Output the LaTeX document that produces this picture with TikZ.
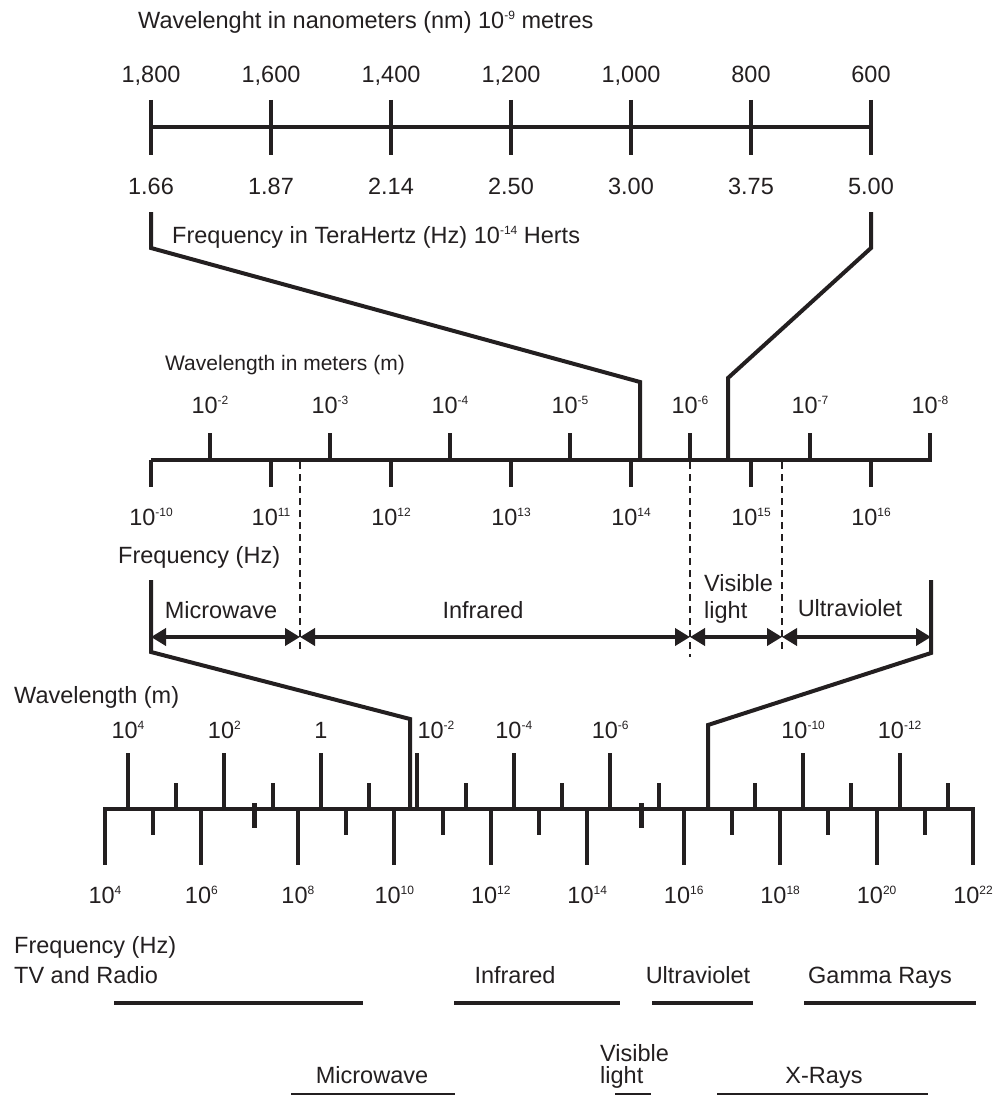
\documentclass[tikz,border=0pt]{standalone}
\usepackage{fontspec}
\setmainfont{Liberation Sans}
\usetikzlibrary{arrows.meta}
\definecolor{ink}{RGB}{35,31,32}
\newcommand{\sx}[1]{\raisebox{9pt}{\fontsize{12}{12}\selectfont #1}}
\begin{document}
\begin{tikzpicture}[x=1pt,y=-1pt,line cap=butt]
\tikzset{
 lbl/.style={font=\fontsize{23.5}{27}\selectfont, text=ink, inner sep=0pt, anchor=base},
 lblw/.style={lbl, anchor=base west},
 axis/.style={draw=ink, line width=4pt},
 tick/.style={draw=ink, line width=4pt},
 conn/.style={draw=ink, line width=4pt, line join=miter},
 dashline/.style={draw=ink, line width=2pt, dash pattern=on 7pt off 5pt},
 band/.style={draw=ink, line width=4.5pt},
 thinband/.style={draw=ink, line width=1.5pt},
 dbl/.style={draw=ink, line width=4pt, {Triangle[length=15pt,width=17pt]}-{Triangle[length=15pt,width=17pt]}},
}
\useasboundingbox (0,0) rectangle (997,1097);
% ---------- top scale ----------
\node[lblw] (ttl1) at (138,29) {Wavelenght in nanometers (nm) 10\sx{-9} metres};
\foreach \x/\t [count=\i] in {151/{1,800},271/{1,600},391/{1,400},511/{1,200},631/{1,000},751/800,871/600}{
  \node[lbl] (nm\i) at (\x,83) {\t};
  \draw[tick] (\x,100) -- (\x,155);
}
\draw[axis] (151,127) -- (871,127);
\foreach \x/\t [count=\i] in {151/1.66,271/1.87,391/2.14,511/2.50,631/3.00,751/3.75,871/5.00}{
  \node[lbl] (th\i) at (\x,194) {\t};
}
\node[lblw] (ttl2) at (172,243) {Frequency in TeraHertz (Hz) 10\sx{-14} Herts};
% connectors top -> middle
\coordinate (la1) at (151,212); \coordinate (la2) at (151,248);
\coordinate (la3) at (640,382); \coordinate (la4) at (640,460);
\draw[conn] (la1) -- (la2) -- (la3) -- (la4);
\coordinate (ra1) at (871,212); \coordinate (ra2) at (871,248);
\coordinate (ra3) at (728,378); \coordinate (ra4) at (728,460);
\draw[conn] (ra1) -- (ra2) -- (ra3) -- (ra4);
% ---------- middle scale ----------
\node[lblw, font=\fontsize{21}{25}\selectfont] (ttl3) at (165,370) {Wavelength in meters (m)};
\foreach \x/\t [count=\i] in {210/{10\sx{-2}},330/{10\sx{-3}},450/{10\sx{-4}},570/{10\sx{-5}},690/{10\sx{-6}},810/{10\sx{-7}},930/{10\sx{-8}}}{
  \node[lbl] (mw\i) at (\x,413) {\t};
  \draw[tick] (\x,433) -- (\x,460);
}
\foreach \x/\t [count=\i] in {151/{10\sx{-10}},271/{10\sx{11}},391/{10\sx{12}},511/{10\sx{13}},631/{10\sx{14}},751/{10\sx{15}},871/{10\sx{16}}}{
  \node[lbl] (mf\i) at (\x,525) {\t};
  \draw[tick] (\x,460) -- (\x,487);
}
\draw[axis] (151,460) -- (932,460);
\node[lblw] (ttl4) at (118,563) {Frequency (Hz)};
\coordinate (d1a) at (300,462); \coordinate (d1b) at (300,652);
\coordinate (d2a) at (690,462); \coordinate (d2b) at (690,657);
\coordinate (d3a) at (782,462); \coordinate (d3b) at (782,652);
\draw[dashline] (d1a) -- (d1b);
\draw[dashline] (d2a) -- (d2b);
\draw[dashline] (d3a) -- (d3b);
\coordinate (b1) at (151,637); \coordinate (b2) at (300,637);
\coordinate (b3) at (690,637); \coordinate (b4) at (782,637); \coordinate (b5) at (931,637);
\draw[dbl] (b1) -- (b2);
\draw[dbl] (b2) -- (b3);
\draw[dbl] (b3) -- (b4);
\draw[dbl] (b4) -- (b5);
\node[lbl] (mMicro) at (221,618) {Microwave};
\node[lbl] (mInfra) at (483,618) {Infrared};
\node[lblw] (mVis) at (704,591) {Visible};
\node[lblw] (mLight) at (704,618) {light};
\node[lbl] (mUV) at (850,616) {Ultraviolet};
% connectors middle -> bottom
\coordinate (lb1) at (151,580); \coordinate (lb2) at (151,652);
\coordinate (lb3) at (410,719); \coordinate (lb4) at (410,809);
\draw[conn] (lb1) -- (lb2) -- (lb3) -- (lb4);
\coordinate (rb1) at (931,580); \coordinate (rb2) at (931,653);
\coordinate (rb3) at (708,725); \coordinate (rb4) at (708,809);
\draw[conn] (rb1) -- (rb2) -- (rb3) -- (rb4);
% ---------- bottom scale ----------
\node[lblw] (ttl5) at (14,703) {Wavelength (m)};
\foreach \x/\t [count=\i] in {128/{10\sx{4}},224.4/{10\sx{2}},320.9/{1},513.8/{10\sx{-4}},610.2/{10\sx{-6}},803.1/{10\sx{-10}},899.6/{10\sx{-12}}}{
  \node[lbl] (bw\i) at (\x,738) {\t};
}
\node[lbl] (bw9) at (436,738) {10\sx{-2}};
\foreach \x in {128,224.4,320.9,417.3,513.8,610.2,803.1,899.6}{
  \draw[tick] (\x,753) -- (\x,809);
}
\foreach \x in {176.2,272.7,369.1,465.6,562,658.5,754.9,851.4,947.8}{
  \draw[tick] (\x,783) -- (\x,809);
}
\foreach \x/\t [count=\i] in {105/{10\sx{4}},201.4/{10\sx{6}},297.9/{10\sx{8}},394.3/{10\sx{10}},490.8/{10\sx{12}},587.2/{10\sx{14}},683.7/{10\sx{16}},780.1/{10\sx{18}},876.6/{10\sx{20}},973/{10\sx{22}}}{
  \node[lbl] (bf\i) at (\x,903) {\t};
  \draw[tick] (\x,809) -- (\x,865);
}
\foreach \x in {153.2,346.1,442.6,539,731.9,828.4,924.8}{
  \draw[tick] (\x,809) -- (\x,835);
}
\draw[draw=ink, line width=5pt] (254,803) -- (254,828);
\draw[draw=ink, line width=5pt] (641,803) -- (641,828);
\draw[axis] (103,809) -- (975,809);
% ---------- bottom bands ----------
\node[lblw] (ttl6) at (14,953) {Frequency (Hz)};
\node[lblw] (gTV) at (14,983) {TV and Radio};
\node[lbl] (gIR) at (515,983) {Infrared};
\node[lbl] (gUV) at (698,983) {Ultraviolet};
\node[lbl] (gGR) at (880,983) {Gamma Rays};
\draw[band] (114,1003) -- (363,1003);
\draw[band] (454,1003) -- (620,1003);
\draw[band] (652,1003) -- (753,1003);
\draw[band] (804,1003) -- (976,1003);
\node[lblw] (gVis) at (600,1061) {Visible};
\node[lblw] (gLight) at (600,1083) {light};
\node[lbl] (gMW) at (372,1083) {Microwave};
\node[lbl] (gXR) at (824,1083) {X-Rays};
\draw[thinband] (291,1094) -- (455,1094);
\draw[thinband] (615,1094) -- (651,1094);
\draw[thinband] (717,1094) -- (928,1094);
\end{tikzpicture}
\end{document}
